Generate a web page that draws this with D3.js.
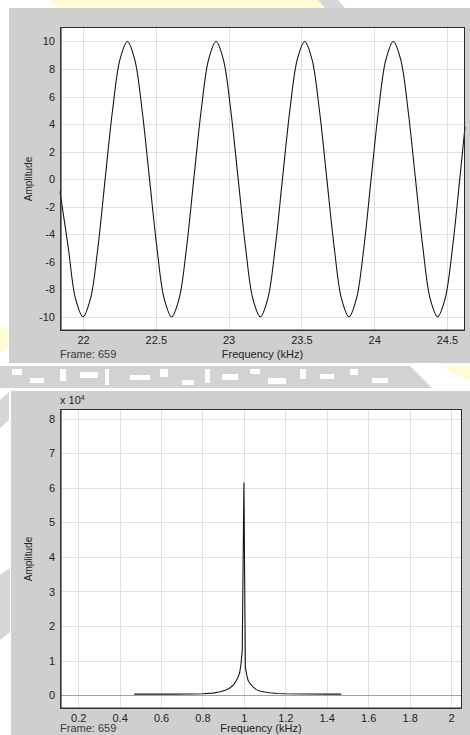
<!DOCTYPE html>
<html><head><meta charset="utf-8">
<script src="https://cdn.jsdelivr.net/npm/d3@7"></script>
<style>body{margin:0;background:#fff;overflow:hidden}svg{display:block;font-family:"Liberation Sans",Arial,sans-serif}</style>
</head><body><svg id="c" width="470" height="735"></svg>
<script>
// ---- top panel: waveform ----
const waveX = [21.842,21.899,21.949,22.000,22.051,22.102,22.152,22.203,22.254,22.305,22.355,22.406,22.457,22.508,22.558,
  22.609,22.660,22.711,22.761,22.812,22.863,22.914,22.964,23.015,23.066,23.117,23.167,23.218,23.269,23.320,23.370,
  23.421,23.472,23.523,23.573,23.624,23.675,23.726,23.776,23.827,23.878,23.929,23.979,24.030,24.081,24.132,24.182,
  24.233,24.284,24.335,24.385,24.436,24.487,24.538,24.588,24.624];
const waveY = [-0.9,-5,-8.7,-10,-8.7,-5,0,5,8.7,10,8.7,5,0,-5,-8.7,
  -10,-8.7,-5,0,5,8.7,10,8.7,5,0,-5,-8.7,-10,-8.7,-5,0,
  5,8.7,10,8.7,5,0,-5,-8.7,-10,-8.7,-5,0,5,8.7,10,8.7,
  5,0,-5,-8.7,-10,-8.7,-5,0,3.8];
const waveXTicks = [22,22.5,23,23.5,24,24.5];
const waveYTicks = [-10,-8,-6,-4,-2,0,2,4,6,8,10];

// ---- bottom panel: spectrum (amplitude in units of 10^4) ----
const specX = [0.47,0.55,0.65,0.75,0.80,0.85,0.885,0.91,0.93,0.95,0.96,0.97,0.979,0.985,0.992,1.0,1.007,1.013,1.02,
  1.03,1.044,1.06,1.076,1.1,1.125,1.16,1.2,1.3,1.4,1.47];
const specY = [0.03,0.03,0.03,0.035,0.04,0.06,0.1,0.14,0.2,0.3,0.39,0.5,0.64,0.85,1.3,6.15,0.82,0.6,0.43,
  0.33,0.24,0.16,0.12,0.09,0.07,0.05,0.04,0.035,0.03,0.03];
const specXTicks = [0.2,0.4,0.6,0.8,1,1.2,1.4,1.6,1.8,2];
const specYTicks = [0,1,2,3,4,5,6,7,8];

const svg = d3.select("#c");
const fmt = d3.formatLocale({decimal:".",thousands:",",grouping:[3],currency:["",""],minus:"-"}).format("~g");

// background watermark approximations
svg.append("path").attr("d","M50,0 L318,0 L325,8 L58,8 Z").attr("fill","#fffbd2");
svg.append("path").attr("d","M318,0 L338,0 L345,8 L325,8 Z").attr("fill","#d6d6d6");
const band = svg.append("g");
band.append("rect").attr("x",0).attr("y",366).attr("width",400).attr("height",22).attr("fill","#d2d2d2");
band.append("path").attr("d","M400,366 L410,366 L432,388 L400,388 Z").attr("fill","#d2d2d2");
band.append("path").attr("d","M440,366 L470,366 L470,381 Z").attr("fill","#fffbd2");
const holes = [[12,369,10,6],[30,378,14,5],[60,369,6,12],[80,372,18,6],[105,369,4,16],[130,375,20,5],[160,369,8,8],
  [182,380,12,5],[205,369,5,14],[222,374,16,6],[250,369,10,5],[268,378,18,6],[300,369,6,10],[320,374,14,5],[350,369,8,6],[372,378,16,5]];
holes.forEach(h=>band.append("rect").attr("x",h[0]).attr("y",h[1]).attr("width",h[2]).attr("height",h[3]).attr("fill","#fff"));
svg.append("path").attr("d","M0,400 L9,392 L9,420 L0,428 Z").attr("fill","#d6d6d6");
svg.append("path").attr("d","M0,575 L10,568 L10,632 L0,640 Z").attr("fill","#d6d6d6");
svg.append("path").attr("d","M0,330 L8,326 L8,348 L0,352 Z").attr("fill","#fffbd2");

function panel(o){
  const g = svg.append("g");
  g.append("rect").attr("x",o.px).attr("y",o.py).attr("width",o.pw).attr("height",o.ph).attr("fill","#cfcfcf");
  const x = d3.scaleLinear().domain(o.xd).range([o.l,o.r]);
  const y = d3.scaleLinear().domain(o.yd).range([o.b,o.t]);
  g.append("rect").attr("x",o.l).attr("y",o.t).attr("width",o.r-o.l).attr("height",o.b-o.t).attr("fill","#fff");
  // grid
  g.selectAll(".gx").data(o.xt).join("line").attr("x1",d=>Math.round(x(d))+0.5).attr("x2",d=>Math.round(x(d))+0.5)
    .attr("y1",o.t).attr("y2",o.b).attr("stroke","#e0e0e0").attr("stroke-width",1);
  g.selectAll(".gy").data(o.yt).join("line").attr("y1",d=>Math.round(y(d))+0.5).attr("y2",d=>Math.round(y(d))+0.5)
    .attr("x1",o.l).attr("x2",o.r).attr("stroke",d=>(o.zeroDark&&d===0)?"#a0a0a0":"#e0e0e0").attr("stroke-width",1);
  // data
  const line = d3.line().x(d=>x(d[0])).y(d=>y(d[1])).curve(o.curve||d3.curveLinear);
  g.append("path").datum(o.xs.map((v,i)=>[v,o.ys[i]])).attr("d",line).attr("fill","none")
    .attr("stroke","#161616").attr("stroke-width",1.1);
  // border
  g.append("rect").attr("x",o.l+0.5).attr("y",o.t+0.5).attr("width",o.r-o.l-1).attr("height",o.b-o.t-1)
    .attr("fill","none").attr("stroke","#2a2a2a").attr("stroke-width",1);
  g.append("path").attr("d",`M${o.l+0.8},${o.t} L${o.l+0.8},${o.b-0.8} L${o.r},${o.b-0.8}`).attr("fill","none")
    .attr("stroke","#333").attr("stroke-width",1.6);
  // axes labels
  const xa = d3.axisBottom(x).tickValues(o.xt).tickSize(0).tickPadding(0).tickFormat(fmt);
  const gx = g.append("g").attr("transform",`translate(0,${o.b})`).call(xa);
  gx.select(".domain").remove();
  gx.selectAll("text").attr("y",9).attr("dy","0.35em").attr("font-size",11).attr("fill","#222").attr("font-family",null);
  const ya = d3.axisLeft(y).tickValues(o.yt).tickSize(0).tickPadding(0).tickFormat(fmt);
  const gy = g.append("g").attr("transform",`translate(${o.l},0)`).call(ya);
  gy.select(".domain").remove();
  gy.selectAll("text").attr("x",-5).attr("font-size",11).attr("fill","#222").attr("font-family",null);
  g.append("text").attr("x",o.l).attr("y",o.b+o.lab).attr("dy","0.35em").attr("font-size",11).attr("fill","#36403a").text("Frame: 659");
  g.append("text").attr("x",(o.l+o.r)/2).attr("y",o.b+o.lab).attr("dy","0.35em").attr("text-anchor","middle")
    .attr("font-size",11).attr("fill","#222").text("Frequency (kHz)");
  g.append("text").attr("transform",`translate(28,${(o.t+o.b)/2}) rotate(-90)`).attr("text-anchor","middle")
    .attr("dy","0.35em").attr("font-size",10).attr("fill","#222").text("Amplitude");
  return g;
}

panel({px:9,py:8,pw:461,ph:355,l:60,r:465,t:27,b:331,xd:[21.842,24.624],yd:[-11.03,11.05],lab:23,
  xt:waveXTicks,yt:waveYTicks,xs:waveX,ys:waveY,curve:d3.curveCatmullRom});
const gb = panel({px:11,py:391,pw:459,ph:344,l:60,r:462,t:409,b:709,xd:[0.112,2.053],yd:[-0.40,8.28],lab:19.5,
  xt:specXTicks,yt:specYTicks,xs:specX,ys:specY,zeroDark:true});
const lab = gb.append("text").attr("x",60).attr("y",400).attr("dy","0.35em").attr("font-size",11).attr("fill","#222");
lab.append("tspan").text("x 10");
lab.append("tspan").attr("dy","-0.5em").attr("font-size",7).text("4");
</script></body></html>
